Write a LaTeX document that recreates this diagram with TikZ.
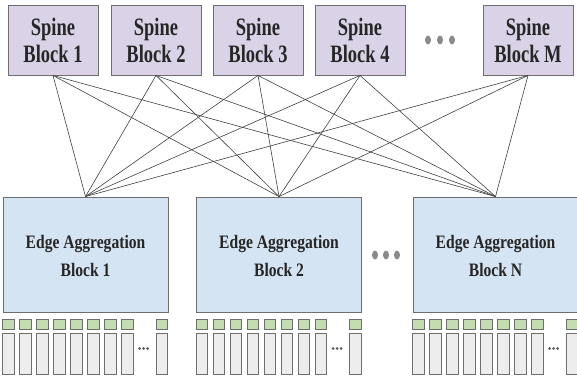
\documentclass[tikz,border=0pt]{standalone}
\usepackage{fontspec}
\setmainfont{Liberation Serif}
\usepackage{graphicx}
\usepackage{xcolor}
\definecolor{spinefill}{HTML}{DAD3E8}
\definecolor{edgefill}{HTML}{D5E4F3}
\definecolor{portfill}{HTML}{C4DDB0}
\definecolor{hostfill}{HTML}{EDEDED}
\definecolor{boxline}{HTML}{6E6E6E}
\definecolor{dotgray}{HTML}{8A8A8A}
\usetikzlibrary{calc}

\newcommand{\squeeze}[3]{\raisebox{#2}[\height][\depth]{\scalebox{#1}[1]{\begin{tabular}{@{}c@{}}#3\end{tabular}}}}

\begin{document}
\begin{tikzpicture}[x=1pt, y=-1pt,
  spine/.style={rectangle, draw=boxline, line width=0.9pt, fill=spinefill,
    minimum width=90pt, minimum height=70pt, inner sep=0pt,
    font=\fontsize{25}{27}\selectfont\bfseries, text=black!85},
  edgeblk/.style={rectangle, draw=boxline, line width=0.9pt, fill=edgefill,
    minimum width=165pt, minimum height=115pt, inner sep=0pt,
    font=\fontsize{19}{28}\selectfont\bfseries, text=black!85},
  link/.style={draw=black!75, line width=0.6pt},
  port/.style={draw=boxline, line width=0.7pt, fill=portfill},
  host/.style={draw=boxline, line width=0.7pt, fill=hostfill}
]
\useasboundingbox (0,0) rectangle (577,379);

% spine blocks
\node[spine] (s1) at (53,40)  {\squeeze{0.74}{-4pt}{Spine\\Block 1}};
\node[spine] (s2) at (156,40) {\squeeze{0.74}{-4pt}{Spine\\Block 2}};
\node[spine] (s3) at (258,40) {\squeeze{0.74}{-4pt}{Spine\\Block 3}};
\node[spine] (s4) at (360,40) {\squeeze{0.74}{-4pt}{Spine\\Block 4}};
\node[spine] (s5) at (528,40) {\squeeze{0.74}{-4pt}{Spine\\Block M}};
\foreach \x in {428,440,452}
  \fill[dotgray] (\x,40) ellipse (3pt and 4.5pt);

% edge aggregation blocks
\node[edgeblk] (e1) at (85.5,254.5)  {\squeeze{0.82}{-2pt}{Edge Aggregation\\Block 1}};
\node[edgeblk] (e2) at (279,254.5)   {\squeeze{0.82}{-2pt}{Edge Aggregation\\Block 2}};
\node[edgeblk] (e3) at (495.5,254.5) {\squeeze{0.82}{-2pt}{Edge Aggregation\\Block N}};
\foreach \x in {375,386,397}
  \fill[dotgray] (\x,255) ellipse (3pt and 4.5pt);

% spine to edge links
\foreach \s in {1,...,5}
  \foreach \e in {1,2,3}
    \draw[link] (s\s.south) -- (e\e.north);

% ports and hosts under each edge block
\foreach \e in {1,2,3} {
  \foreach \i in {0,...,7,9} {
    \pgfmathsetmacro{\dx}{\i==9 ? 153.5 : 17*\i}
    \draw[port] ($(e\e.south west)+(\dx,7)$) rectangle ++(11.5,10);
    \draw[host] ($(e\e.south west)+(\dx,21)$) rectangle ++(11.5,41);
  }
  \foreach \dx in {137,141,145}
    \fill[black!65] ($(e\e.south west)+(\dx,36)$) circle (1.5pt);
}
\end{tikzpicture}
\end{document}
